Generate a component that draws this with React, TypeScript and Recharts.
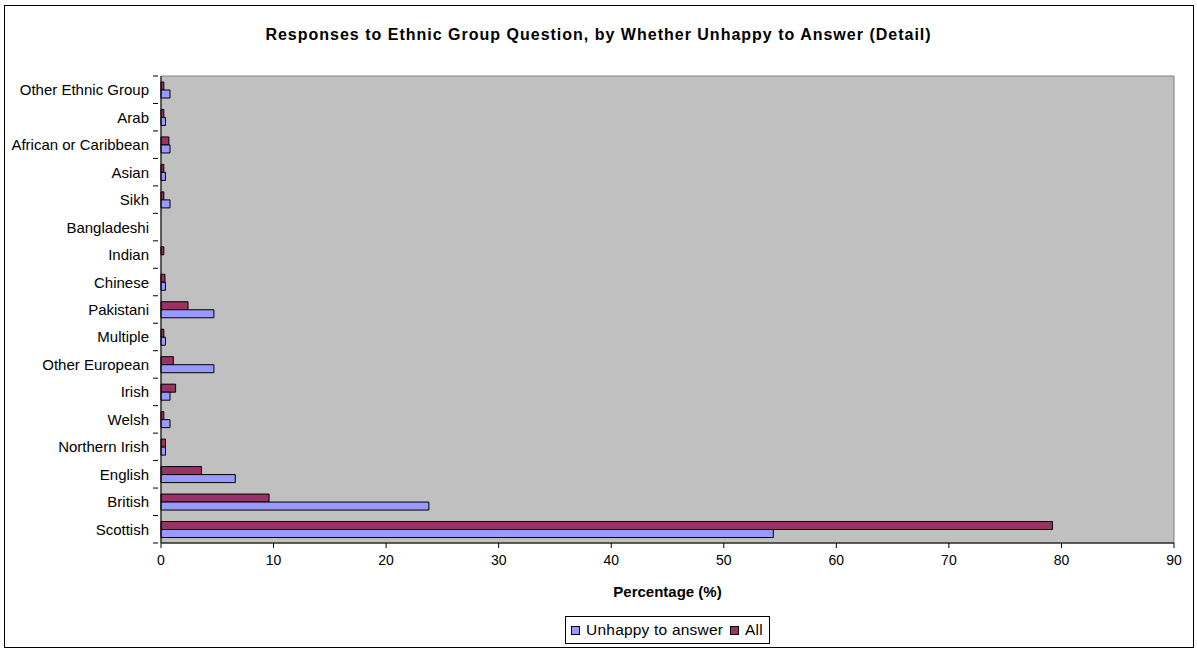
import { Bar, BarChart, Legend, ReferenceArea, XAxis, YAxis } from "recharts"

const groups = [
  "Other Ethnic Group",
  "Arab",
  "African or Caribbean",
  "Asian",
  "Sikh",
  "Bangladeshi",
  "Indian",
  "Chinese",
  "Pakistani",
  "Multiple",
  "Other European",
  "Irish",
  "Welsh",
  "Northern Irish",
  "English",
  "British",
  "Scottish",
]
const unhappy = [0.8, 0.4, 0.8, 0.4, 0.8, 0, 0, 0.4, 4.7, 0.4, 4.7, 0.8, 0.8, 0.4, 6.6, 23.8, 54.4]
const all = [0.25, 0.25, 0.7, 0.25, 0.25, 0, 0.25, 0.35, 2.4, 0.25, 1.1, 1.3, 0.25, 0.4, 3.6, 9.6, 79.2]
const xTicks = [0, 10, 20, 30, 40, 50, 60, 70, 80, 90]

const data = groups.map((g, i) => ({ group: g, unhappy: unhappy[i], all: all[i] }))

const FONT = "'Liberation Sans', Arial, sans-serif"
const BAND = (543 - 76) / groups.length

function GroupTick(props: any) {
  const { x, y, payload, index } = props
  return (
    <g>
      <text x={x - 4} y={y} textAnchor="end" dominantBaseline="central" fontSize={15} fill="#000" fontFamily={FONT}>
        {payload.value}
      </text>
      <line x1={x} x2={x + 5} y1={y + BAND / 2} y2={y + BAND / 2} stroke="#000" />
      {index === 0 && <line x1={x} x2={x + 5} y1={y - BAND / 2} y2={y - BAND / 2} stroke="#000" />}
    </g>
  )
}

function LegendBox() {
  const item = (color: string, label: string, last?: boolean) => (
    <span style={{ display: "inline-flex", alignItems: "center", marginRight: last ? 6 : 7 }}>
      <span
        style={{
          width: 9,
          height: 9,
          boxSizing: "border-box",
          background: color,
          border: "1px solid #000",
          marginRight: 6,
        }}
      />
      {label}
    </span>
  )
  return (
    <div style={{ display: "flex", justifyContent: "center", paddingLeft: 161 }}>
      <div
        style={{
          height: 28,
          boxSizing: "border-box",
          border: "1px solid #000",
          background: "#fff",
          paddingLeft: 5,
          display: "flex",
          alignItems: "center",
          fontSize: 15.5,
          letterSpacing: 0.2,
          fontFamily: FONT,
          color: "#000",
          whiteSpace: "nowrap",
        }}
      >
        {item("#9999FF", "Unhappy to answer")}
        {item("#993366", "All", true)}
      </div>
    </div>
  )
}

export default function App() {
  return (
    <div style={{ position: "absolute", left: 0, top: 0, width: 1197, height: 651, background: "#fff" }}>
      <div
        style={{
          position: "absolute",
          left: 4,
          top: 5,
          width: 1190,
          height: 643,
          boxSizing: "border-box",
          border: "1px solid #000",
        }}
      />
      <div
        style={{
          position: "absolute",
          left: 0,
          top: 26,
          width: 1197,
          textAlign: "center",
          fontFamily: FONT,
          fontWeight: "bold",
          fontSize: 16,
          letterSpacing: 1,
          color: "#000",
        }}
      >
        Responses to Ethnic Group Question, by Whether Unhappy to Answer (Detail)
      </div>
      <div style={{ position: "absolute", left: 0, top: 0 }}>
        <BarChart
          width={1197}
          height={651}
          data={data}
          layout="vertical"
          margin={{ top: 76, right: 23, left: 0, bottom: 7 }}
          barCategoryGap="21%"
          barGap={0}
        >
          <ReferenceArea x1={0} x2={90} fill="#C0C0C0" fillOpacity={1} stroke="#808080" ifOverflow="visible" />
          <XAxis
            type="number"
            domain={[0, 90]}
            ticks={xTicks}
            interval={0}
            height={73}
            axisLine={{ stroke: "#000" }}
            tickLine={{ stroke: "#000" }}
            tickSize={5}
            tickMargin={7}
            tick={{ fontSize: 14, fill: "#000", fontFamily: FONT }}
            label={{
              value: "Percentage (%)",
              position: "insideBottom",
              offset: 19,
              style: { fontSize: 15, fontWeight: "bold", fill: "#000", fontFamily: FONT },
            }}
          />
          <YAxis
            type="category"
            dataKey="group"
            width={161}
            interval={0}
            axisLine={{ stroke: "#000" }}
            tickLine={false}
            tick={<GroupTick />}
          />
          <Legend verticalAlign="bottom" content={() => <LegendBox />} />
          <Bar dataKey="all" name="All" fill="#993366" stroke="#000" barSize={8} isAnimationActive={false} />
          <Bar dataKey="unhappy" name="Unhappy to answer" fill="#9999FF" stroke="#000" barSize={8} isAnimationActive={false} />
        </BarChart>
      </div>
    </div>
  )
}
